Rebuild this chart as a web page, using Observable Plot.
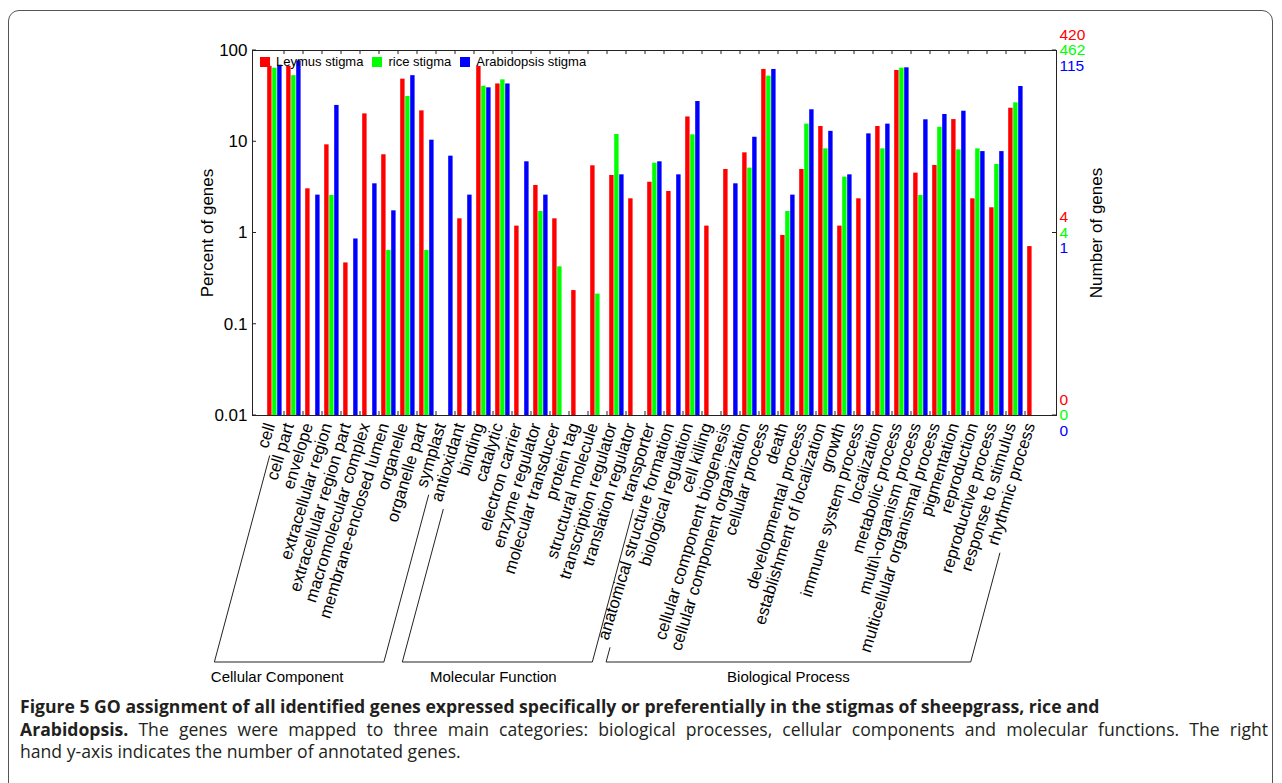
<!DOCTYPE html>
<html>
<head>
<meta charset="utf-8">
<script src="https://cdn.jsdelivr.net/npm/d3@7"></script>
<script src="https://cdn.jsdelivr.net/npm/@observablehq/plot@0.6"></script>
<style>
  html, body { margin: 0; padding: 0; background: #fff; }
  body { width: 1282px; height: 783px; overflow: hidden; position: relative; font-family: "Liberation Sans", Arial, sans-serif; }
  #border { position: absolute; left: 8px; top: 10px; width: 1265px; height: 820px; border: 1.5px solid #555; border-radius: 11px; box-sizing: border-box; }
  #chart { position: absolute; left: 0; top: 0; }
  #legend { position: absolute; left: 260px; top: 55px; font-size: 13px; color: #000; display: flex; align-items: center; line-height: 13px; }
  #legend .sw { display: inline-block; width: 10px; height: 10px; margin-right: 6px; }
  #legend .it { display: flex; align-items: center; margin-right: 9px; }
  #caption { position: absolute; left: 20px; top: 695px; width: 1248px; font-family: "Open Sans", sans-serif; font-size: 17.6px; line-height: 22.5px; color: #231f20; }
  #caption div { white-space: nowrap; }
  #caption span.fit { display: inline-block; }
</style>
</head>
<body>
<div id="border"></div>
<div id="chart"></div>
<div id="legend"></div>
<div id="caption">
  <div><b>Figure 5 GO assignment of all identified genes expressed specifically or preferentially in the stigmas of sheepgrass, rice and</b></div>
  <div><span class="fit" id="l2"><b>Arabidopsis.</b> The genes were mapped to three main categories: biological processes, cellular components and molecular functions. The right</span></div>
  <div>hand y-axis indicates the number of annotated genes.</div>
</div>
<script>
// ---------------- data ----------------
const categories = [
  "cell", "cell part", "envelope", "extracellular region", "extracellular region part",
  "macromolecular complex", "membrane-enclosed lumen", "organelle", "organelle part", "symplast",
  "antioxidant", "binding", "catalytic", "electron carrier", "enzyme regulator",
  "molecular transducer", "protein tag", "structural molecule", "transcription regulator",
  "translation regulator", "transporter",
  "anatomical structure formation", "biological regulation", "cell killing",
  "cellular component biogenesis", "cellular component organization", "cellular process",
  "death", "developmental process", "establishment of localization", "growth",
  "immune system process", "localization", "metabolic process", "multi\\-organism process",
  "multicellular organismal process", "pigmentation", "reproduction", "reproductive process",
  "response to stimulus", "rhythmic process"
];
const groupNames = ["Cellular Component", "Molecular Function", "Biological Process"];
const groupSizes = [10, 11, 20];
const seriesNames = ["Leymus stigma", "rice stigma", "Arabidopsis stigma"];
const seriesColors = ["#ff0000", "#00ff00", "#0000ff"];

// percent of genes (null = no genes)
const leymus = [
  67, 67, 3.05, 9.25, 0.47, 20.2, 7.2, 48.5, 21.8, null,
  1.43, 67, 43, 1.19, 3.32, 1.43, 0.234, 5.45, 4.27, 2.37, 3.6,
  2.85, 18.7, 1.19, 4.97, 7.56, 62, 0.94, 4.97, 14.7, 1.19,
  2.37, 14.7, 60.4, 4.53, 5.5, 17.5, 2.37, 1.89, 23.3, 0.71
];
const rice = [
  64, 53, null, 2.58, null, null, 0.645, 31.3, 0.645, null,
  null, 40.6, 47.7, null, 1.72, 0.426, null, 0.214, 12.0, null, 5.82,
  null, 11.9, null, null, 5.14, 52.3, 1.72, 15.6, 8.36, 4.09,
  null, 8.36, 64, 2.58, 14.4, 8.15, 8.36, 5.63, 26.7, null
];
const arabidopsis = [
  69, 77, 2.6, 25, 0.86, 3.46, 1.75, 53, 10.4, 6.95,
  2.6, 39, 43, 6.03, 2.6, null, null, null, 4.34, null, 6.03,
  4.34, 27.6, null, 3.46, 11.2, 62, 2.6, 22.4, 13.0, 4.34,
  12.2, 15.6, 64.6, 17.4, 19.9, 21.6, 7.8, 7.8, 40.3, null
];

const yTicks = [100, 10, 1, 0.1, 0.01];
const yTickLabels = ["100", "10", "1", "0.1", "0.01"];
const rightTickPercents = [100, 1, 0.01];
const leymusCounts = ["420", "4", "0"];
const riceCounts = ["462", "4", "0"];
const arabidopsisCounts = ["115", "1", "0"];

// ---------------- layout ----------------
const W = 1282, H = 695;
const mL = 252, mR = 226, mT = 50, mB = 280;
const bw = (W - mL - mR) / categories.length;
const barW = 5, barOff = 2.2;
const labelFont = 16.8;
const labelAngle = 73;
const labelDx = -5, labelDy = 8;
const bracketTextShift = [-22, -4, 0];

const seriesValues = [leymus, rice, arabidopsis];
const rowsBySeries = seriesValues.map((vals, s) =>
  vals.map((v, i) => ({cat: categories[i], series: seriesNames[s], v})).filter(d => d.v != null)
);

const barMarks = rowsBySeries.map((rows, s) =>
  Plot.barY(rows, {
    x: "cat", y1: yTicks[yTicks.length - 1], y2: "v", fill: seriesColors[s],
    insetLeft: barOff + s * barW, insetRight: bw - barOff - (s + 1) * barW
  })
);

const rightLabelSets = [leymusCounts, riceCounts, arabidopsisCounts];
const rightMarks = rightLabelSets.map((labels, s) =>
  Plot.text(rightTickPercents, {
    y: d => d, text: (d, i) => labels[i], frameAnchor: "right", dx: 3,
    dy: [-15.5, 0, 15.5][s], textAnchor: "start", fill: seriesColors[s], fontSize: 15.5
  })
);

const plot = Plot.plot({
  width: W, height: H,
  marginLeft: mL, marginRight: mR, marginTop: mT, marginBottom: mB,
  style: {fontFamily: "'Liberation Sans', Arial, sans-serif", background: "transparent", overflow: "visible"},
  x: {type: "band", domain: categories, padding: 0, axis: null},
  y: {type: "log", domain: [0.01, 100], axis: null},
  marks: [
    ...barMarks,
    Plot.frame({stroke: "#222", strokeWidth: 1}),
    Plot.text(yTicks, {y: d => d, text: (d, i) => yTickLabels[i], frameAnchor: "left", dx: -5, textAnchor: "end", fontSize: 17, fill: "#000"}),
    ...rightMarks,
    Plot.text(["Percent of genes"], {frameAnchor: "left", dx: -45, rotate: -90, textAnchor: "middle", fontSize: 17, fill: "#000"}),
    Plot.text(["Number of genes"], {frameAnchor: "right", dx: 40, rotate: -90, textAnchor: "middle", fontSize: 17, fill: "#000"}),
    Plot.text(categories, {x: d => d, frameAnchor: "bottom", dx: labelDx, dy: labelDy, rotate: -labelAngle, textAnchor: "end", lineAnchor: "middle", fontSize: labelFont, fill: "#000"})
  ]
});
document.getElementById("chart").appendChild(plot);

// ---------------- decorations from the scales ----------------
const xs = plot.scale("x"), ys = plot.scale("y");
const plotLeft = xs.range[0], plotRight = xs.range[1];
const plotTop = ys.apply(100), plotBottom = ys.apply(0.01);
const svg = d3.select(plot);
const tg = svg.append("g").attr("stroke", "#222").attr("stroke-width", 1).attr("fill", "none");
for (let i = 1; i < categories.length; i++) {
  const x = xs.apply(categories[i]);
  tg.append("line").attr("x1", x).attr("x2", x).attr("y1", plotTop).attr("y2", plotTop + 4);
  tg.append("line").attr("x1", x).attr("x2", x).attr("y1", plotBottom).attr("y2", plotBottom - 4);
}
for (const t of yTicks) {
  const y = ys.apply(t);
  tg.append("line").attr("x1", plotLeft).attr("x2", plotLeft + 4).attr("y1", y).attr("y2", y);
}
for (const t of rightTickPercents) {
  const y = ys.apply(t);
  tg.append("line").attr("x1", plotRight).attr("x2", plotRight - 4).attr("y1", y).attr("y2", y);
}

// brackets
const ctx = document.createElement("canvas").getContext("2d");
ctx.font = labelFont + "px 'Liberation Sans'";
const th = labelAngle * Math.PI / 180, ph = 75 * Math.PI / 180;
const baseY = 662;
function lineFor(cat) {
  const cx = xs.apply(cat) + bw / 2 + labelDx + 9;
  const ay = plotBottom + labelDy + 2.7;
  const L = ctx.measureText(cat).width + 6;
  let xt = cx - L * Math.cos(th), yt = ay + L * Math.sin(th);
  if (yt > baseY - 14) { xt += (yt - (baseY - 14)) / Math.tan(th); yt = baseY - 14; }
  const xb = xt - (baseY - yt) / Math.tan(ph);
  return {xt, yt, xb};
}
const bg = svg.append("g");
let gStart = 0;
groupNames.forEach((name, k) => {
  const first = categories[gStart], last = categories[gStart + groupSizes[k] - 1];
  const a = lineFor(first), b = lineFor(last);
  bg.append("path").attr("fill", "none").attr("stroke", "#222").attr("stroke-width", 1)
    .attr("d", `M${a.xt},${a.yt}L${a.xb},${baseY}L${b.xb},${baseY}L${b.xt},${b.yt}`);
  bg.append("text").attr("x", (a.xb + b.xb) / 2 + bracketTextShift[k]).attr("y", baseY + 15).attr("dy", "0.32em")
    .attr("text-anchor", "middle").attr("font-size", 15).attr("fill", "#000").text(name);
  gStart += groupSizes[k];
});

// legend
const leg = document.getElementById("legend");
seriesNames.forEach((n, s) => {
  const it = document.createElement("span");
  it.className = "it";
  it.innerHTML = `<span class="sw" style="background:${seriesColors[s]}"></span><span>${n}</span>`;
  leg.appendChild(it);
});

// justify caption line 2 to the caption width
const l2 = document.getElementById("l2");
const natural = l2.getBoundingClientRect().width;
const spaces = (l2.textContent.match(/ /g) || []).length;
l2.style.wordSpacing = ((1248 - natural) / spaces) + "px";
</script>
</body>
</html>
